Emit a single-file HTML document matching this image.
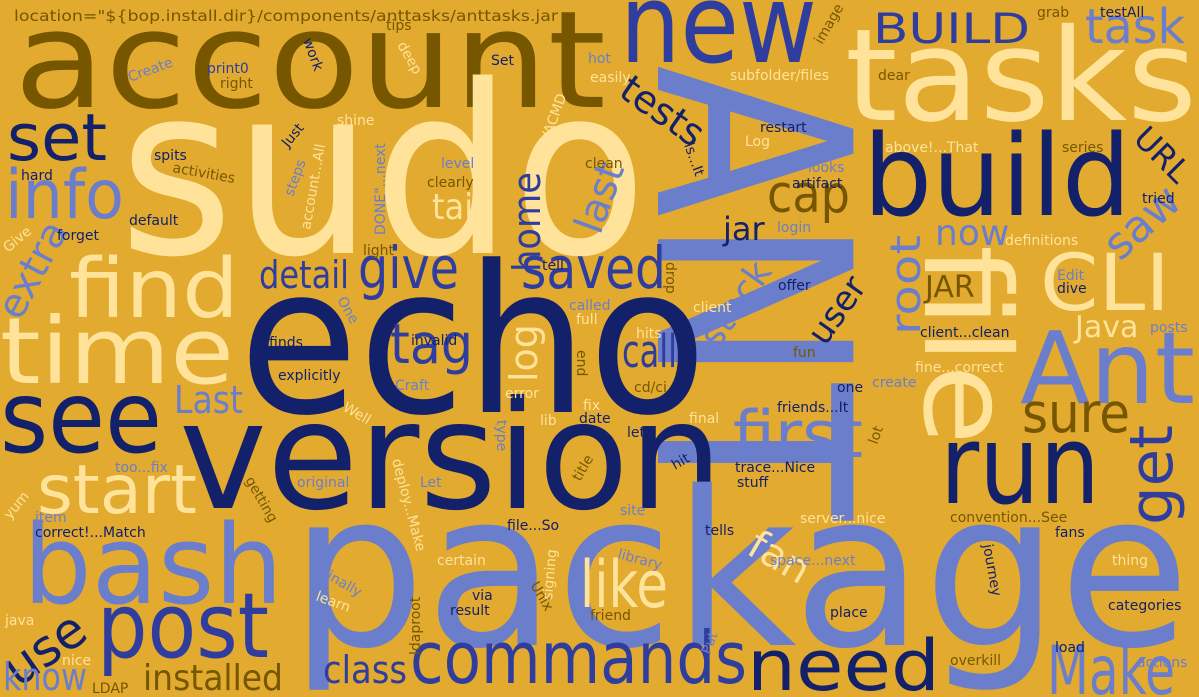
<!DOCTYPE html>
<html><head><meta charset="utf-8"><style>
html,body{margin:0;padding:0;background:#E2AA2F;}
svg{display:block;font-family:"DejaVu Sans","Liberation Sans",sans-serif;}
.n{fill:#13206A}.b{fill:#6A7ECC}.c{fill:#FFE39A}.o{fill:#765700}.m{fill:#2E3D9E}
</style></head><body>
<svg width="1199" height="697" viewBox="0 0 1199 697">
<rect width="1199" height="697" fill="#E2AA2F"/>
<g>
<text class="o" x="14" y="21" font-size="15" textLength="544" lengthAdjust="spacingAndGlyphs">location="${bop.install.dir}/components/anttasks/anttasks.jar</text>
<text class="o" x="14" y="107" font-size="135" textLength="592" lengthAdjust="spacingAndGlyphs">account</text>
<text class="m" x="620" y="62" font-size="110" textLength="197" lengthAdjust="spacingAndGlyphs">new</text>
<text class="c" x="845" y="120" font-size="128" textLength="352" lengthAdjust="spacingAndGlyphs">tasks</text>
<text class="c" x="119" y="253" font-size="235" textLength="528" lengthAdjust="spacingAndGlyphs">sudo</text>
<text class="b" transform="translate(658,65) rotate(90)" font-size="268" textLength="455" lengthAdjust="spacingAndGlyphs">ANT</text>
<text class="n" x="863" y="215" font-size="112" textLength="268" lengthAdjust="spacingAndGlyphs">build</text>
<text class="c" transform="translate(925,245) rotate(90)" font-size="120" textLength="200" lengthAdjust="spacingAndGlyphs">file</text>
<text class="c" x="1040" y="310" font-size="78" textLength="130" lengthAdjust="spacingAndGlyphs">CLI</text>
<text class="b" x="1020" y="403" font-size="100" textLength="175" lengthAdjust="spacingAndGlyphs">Ant</text>
<text class="n" x="239" y="412" font-size="205" textLength="468" lengthAdjust="spacingAndGlyphs">echo</text>
<text class="n" x="179" y="508" font-size="150" textLength="544" lengthAdjust="spacingAndGlyphs">version</text>
<text class="b" x="290" y="645" font-size="215" textLength="900" lengthAdjust="spacingAndGlyphs">package</text>
<text class="c" x="69" y="317" font-size="82" textLength="170" lengthAdjust="spacingAndGlyphs">find</text>
<text class="c" x="0" y="383" font-size="92" textLength="234" lengthAdjust="spacingAndGlyphs">time</text>
<text class="n" x="0" y="452" font-size="100" textLength="162" lengthAdjust="spacingAndGlyphs">see</text>
<text class="b" x="23" y="603" font-size="110" textLength="260" lengthAdjust="spacingAndGlyphs">bash</text>
<text class="m" x="97" y="657" font-size="90" textLength="172" lengthAdjust="spacingAndGlyphs">post</text>
<text class="n" transform="translate(18,688) rotate(-35)" font-size="50">use</text>
<text class="m" x="410" y="683" font-size="72" textLength="337" lengthAdjust="spacingAndGlyphs">commands</text>
<text class="n" x="747" y="690" font-size="70" textLength="193" lengthAdjust="spacingAndGlyphs">need</text>
<text class="n" x="940" y="503" font-size="110" textLength="160" lengthAdjust="spacingAndGlyphs">run</text>
<text class="b" x="1047" y="694" font-size="68" textLength="128" lengthAdjust="spacingAndGlyphs">Make</text>
<text class="c" x="37" y="513" font-size="68" textLength="160" lengthAdjust="spacingAndGlyphs">start</text>
<text class="b" x="5" y="218" font-size="68" textLength="119" lengthAdjust="spacingAndGlyphs">info</text>
<text class="n" x="7" y="160" font-size="65" textLength="100" lengthAdjust="spacingAndGlyphs">set</text>
<text class="b" x="733" y="457" font-size="65" textLength="130" lengthAdjust="spacingAndGlyphs">first</text>
<text class="o" x="1022" y="432" font-size="55" textLength="108" lengthAdjust="spacingAndGlyphs">sure</text>
<text class="m" transform="translate(1172,525) rotate(-90)" font-size="60" textLength="100" lengthAdjust="spacingAndGlyphs">get</text>
<text class="c" x="580" y="607" font-size="65" textLength="88" lengthAdjust="spacingAndGlyphs">like</text>
<text class="m" x="521" y="288" font-size="58" textLength="145" lengthAdjust="spacingAndGlyphs">saved</text>
<text class="m" x="358" y="288" font-size="58" textLength="101" lengthAdjust="spacingAndGlyphs">give</text>
<text class="m" x="390" y="363" font-size="55" textLength="83" lengthAdjust="spacingAndGlyphs">tag</text>
<text class="m" x="622" y="367" font-size="45" textLength="55" lengthAdjust="spacingAndGlyphs">call</text>
<text class="m" x="873" y="43" font-size="42" textLength="157" lengthAdjust="spacingAndGlyphs">BUILD</text>
<text class="b" x="1085" y="43" font-size="48" textLength="100" lengthAdjust="spacingAndGlyphs">task</text>
<text class="n" transform="translate(617,95) rotate(35)" font-size="38">tests</text>
<text class="c" x="432" y="219" font-size="36" textLength="50" lengthAdjust="spacingAndGlyphs">tail</text>
<text class="b" transform="translate(920,335) rotate(-90)" font-size="42" textLength="100" lengthAdjust="spacingAndGlyphs">root</text>
<text class="b" transform="translate(718,350) rotate(-55)" font-size="36">stack</text>
<text class="n" transform="translate(825,347) rotate(-55)" font-size="34">user</text>
<text class="c" x="1075" y="337" font-size="30">Java</text>
<text class="o" x="925" y="297" font-size="30">JAR</text>
<text class="b" x="935" y="245" font-size="36">now</text>
<text class="o" x="767" y="212" font-size="52" textLength="83" lengthAdjust="spacingAndGlyphs">cap</text>
<text class="n" x="723" y="240" font-size="32">jar</text>
<text class="b" transform="translate(1120,262) rotate(-42)" font-size="44">saw</text>
<text class="n" transform="translate(1132,140) rotate(45)" font-size="32">URL</text>
<text class="m" transform="translate(540,272) rotate(-90)" font-size="38" textLength="100" lengthAdjust="spacingAndGlyphs">home</text>
<text class="b" transform="translate(600,236) rotate(-70)" font-size="40">last</text>
<text class="m" x="259" y="288" font-size="38" textLength="90" lengthAdjust="spacingAndGlyphs">detail</text>
<text class="b" transform="translate(20,322) rotate(-62)" font-size="40">extra</text>
<text class="b" x="174" y="413" font-size="38" textLength="69" lengthAdjust="spacingAndGlyphs">Last</text>
<text class="c" transform="translate(537,382) rotate(-90)" font-size="38">log</text>
<text class="c" transform="translate(745,553) rotate(30)" font-size="40">fan</text>
<text class="m" x="323" y="683" font-size="38" textLength="84" lengthAdjust="spacingAndGlyphs">class</text>
<text class="o" x="143" y="690" font-size="36" textLength="140" lengthAdjust="spacingAndGlyphs">installed</text>
<text class="b" x="3" y="690" font-size="38" textLength="84" lengthAdjust="spacingAndGlyphs">know</text>
</g>
<g font-size="14">
<text class="o" x="386" y="30">tips</text><text class="o" x="1037" y="17">grab</text><text class="n" x="1100" y="17">testAll</text>
<text class="b" transform="translate(130,82) rotate(-20)">Create</text><text class="m" x="207" y="73">print0</text><text class="o" x="220" y="88">right</text>
<text class="n" transform="translate(303,40) rotate(70)">work</text><text class="c" transform="translate(397,45) rotate(60)">deep</text>
<text class="n" x="491" y="65">Set</text><text class="b" x="588" y="63">hot</text><text class="c" x="590" y="82">easily</text>
<text class="c" x="730" y="80">subfolder/files</text><text class="o" x="878" y="80">dear</text>
<text class="o" transform="translate(822,45) rotate(-60)">image</text>
<text class="c" x="337" y="125">shine</text><text class="n" transform="translate(288,148) rotate(-50)">Just</text>
<text class="n" x="760" y="132">restart</text><text class="c" x="745" y="146">Log</text><text class="c" x="885" y="152">above!...That</text><text class="o" x="1062" y="152">series</text>
<text class="n" x="154" y="160">spits</text><text class="o" transform="translate(172,172) rotate(10)">activities</text><text class="n" x="21" y="180">hard</text>
<text class="b" transform="translate(293,197) rotate(-70)">steps</text><text class="c" transform="translate(310,230) rotate(-80)">account...All</text>
<text class="b" transform="translate(385,235) rotate(-90)">DONE"...next</text><text class="c" transform="translate(545,155) rotate(-70)">JAVACMD</text>
<text class="n" transform="translate(684,145) rotate(70)">is...It</text>
<text class="o" x="585" y="168">clean</text><text class="b" x="441" y="168">level</text><text class="o" x="427" y="187">clearly</text>
<text class="b" x="808" y="172">looks</text><text class="n" x="792" y="188">artifact</text><text class="n" x="1142" y="203">tried</text>
<text class="n" x="129" y="225">default</text><text class="n" x="57" y="240">forget</text><text class="c" transform="translate(8,253) rotate(-40)">Give</text>
<text class="b" x="777" y="232">login</text><text class="o" x="363" y="255">light</text><text class="b" x="661" y="255">utility</text>
<text class="n" x="542" y="270">tell</text><text class="c" x="1005" y="245">definitions</text><text class="o" transform="translate(666,262) rotate(90)">drop</text>
<text class="b" x="1057" y="280">Edit</text><text class="n" x="1057" y="293">dive</text><text class="b" transform="translate(337,300) rotate(60)">One</text>
<text class="n" x="778" y="290">offer</text><text class="c" x="693" y="312">client</text><text class="n" x="920" y="337">client...clean</text>
<text class="b" x="1150" y="332">posts</text><text class="n" x="269" y="347">finds</text><text class="b" x="569" y="310">called</text>
<text class="c" x="576" y="324">full</text><text class="c" x="636" y="338">hits</text><text class="o" x="793" y="357">fun</text>
<text class="n" x="411" y="345">invalid</text><text class="o" transform="translate(577,350) rotate(90)">end</text><text class="n" x="278" y="380">explicitly</text>
<text class="b" x="395" y="390">Craft</text><text class="c" x="505" y="398">error</text><text class="n" x="837" y="392">one</text>
<text class="b" x="872" y="387">create</text><text class="c" x="915" y="372">fine...correct</text><text class="n" x="777" y="412">friends...It</text>
<text class="c" transform="translate(342,410) rotate(30)">Well</text><text class="c" x="540" y="425">lib</text><text class="c" x="583" y="410">fix</text>
<text class="c" x="689" y="423">final</text><text class="n" x="579" y="423">date</text><text class="n" x="627" y="437">let</text><text class="o" x="634" y="392">cd/ci</text>
<text class="o" transform="translate(877,445) rotate(-70)">lot</text><text class="n" transform="translate(675,470) rotate(-30)">hit</text>
<text class="n" x="735" y="472">trace...Nice</text><text class="n" x="737" y="487">stuff</text>
<text class="b" x="297" y="487">original</text><text class="b" x="420" y="487">Let</text>
<text class="c" transform="translate(392,460) rotate(75)">deploy...Make</text><text class="b" transform="translate(497,420) rotate(90)">type</text>
<text class="o" transform="translate(580,482) rotate(-60)">title</text><text class="b" x="620" y="515">site</text>
<text class="n" x="507" y="530">file...So</text><text class="c" x="800" y="523">server...nice</text><text class="o" x="950" y="522">convention...See</text>
<text class="n" x="1055" y="537">fans</text><text class="c" transform="translate(10,520) rotate(-50)">yum</text>
<text class="b" x="35" y="522">item</text><text class="n" x="35" y="537">correct!...Match</text><text class="b" x="115" y="472">too...fix</text>
<text class="n" x="705" y="535">tells</text><text class="b" x="770" y="565">space...next</text><text class="c" x="1112" y="565">thing</text>
<text class="c" x="437" y="565">certain</text><text class="b" transform="translate(617,558) rotate(15)">library</text>
<text class="b" transform="translate(320,575) rotate(30)">Finally</text><text class="c" transform="translate(315,600) rotate(20)">learn</text>
<text class="c" transform="translate(552,600) rotate(-85)">signing</text><text class="n" transform="translate(983,545) rotate(80)">journey</text>
<text class="n" x="472" y="600">via</text><text class="n" x="450" y="615">result</text><text class="o" transform="translate(530,585) rotate(60)">Unix</text>
<text class="o" x="590" y="620">friend</text><text class="n" x="830" y="617">place</text><text class="n" x="1108" y="610">categories</text>
<text class="c" x="5" y="625">java</text><text class="o" transform="translate(420,655) rotate(-90)">ldaproot</text>
<text class="b" transform="translate(710,655) rotate(-70)">Put</text><text class="o" transform="translate(245,480) rotate(60)">getting</text>
<text class="n" x="1055" y="652">load</text><text class="c" x="62" y="665">nice</text><text class="o" x="92" y="693">LDAP</text>
<text class="o" x="950" y="665">overkill</text><text class="b" x="1137" y="667">actions</text>
</g>
</svg>
</body></html>
